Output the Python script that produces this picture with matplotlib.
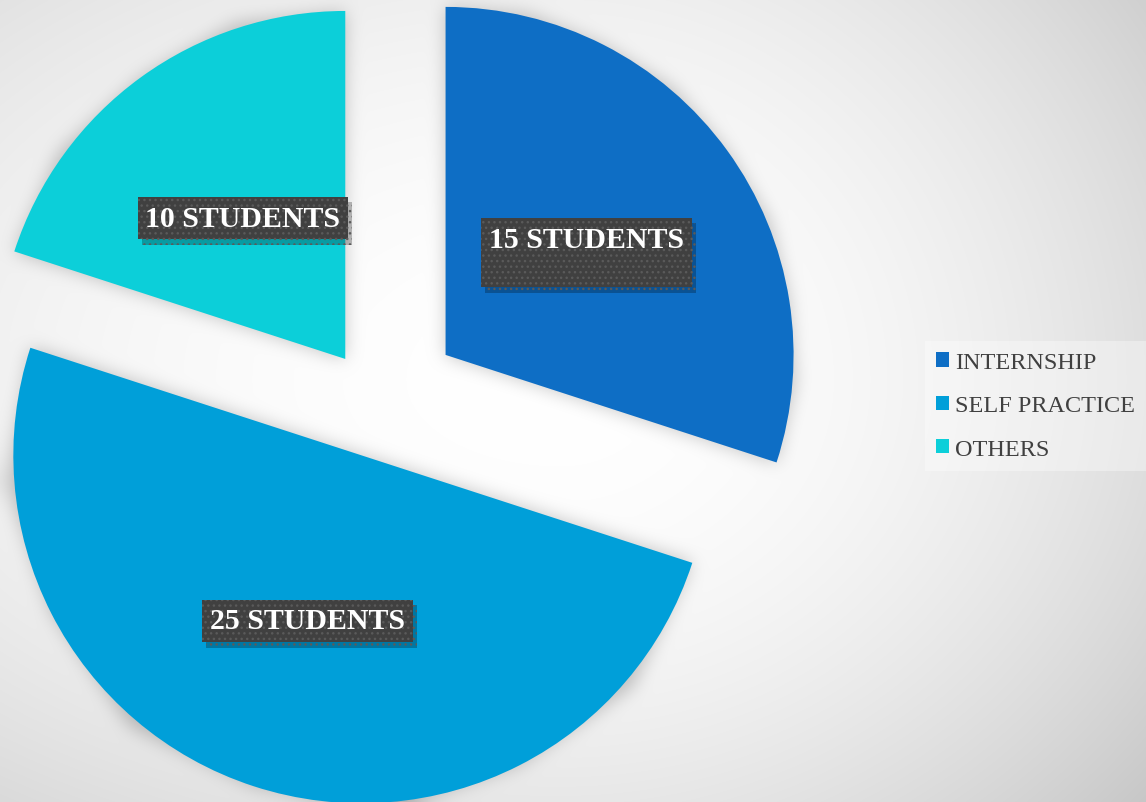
import matplotlib
matplotlib.use('Agg')
import matplotlib.pyplot as plt
import matplotlib.patheffects as pe
import numpy as np


# Where the students got their practice
categories = ['INTERNSHIP', 'SELF PRACTICE', 'OTHERS']
students = [15, 25, 10]
colors = ['#0E6EC5', '#009FD9', '#0CCFD9']
explode = [0.24, 0.155, 0.16]

W, H = 1146, 803
R_PX = 348.0          # pie radius in pixels
CX, CY = 378, 405     # pie centre in pixels, from the top left


# one box filter pass over both axes (three passes ~ gaussian)
def box_blur(img, r):
    pad = np.pad(img, r, mode='edge')
    c = np.cumsum(pad, axis=0)
    c = np.vstack([np.zeros((1, c.shape[1])), c])
    img = (c[2 * r + 1:] - c[:-2 * r - 1]) / (2 * r + 1)
    c = np.cumsum(img, axis=1)
    c = np.hstack([np.zeros((c.shape[0], 1)), c])
    img = (c[:, 2 * r + 1:] - c[:, :-2 * r - 1]) / (2 * r + 1)
    return img


fig = plt.figure(figsize=(W / 100, H / 100), dpi=100)
ax = fig.add_axes([0, 0, 1, 1])

wedges, texts, autotexts = ax.pie(students, colors=colors, explode=explode,
                                  startangle=90, counterclock=False, radius=1,
                                  autopct='%d', pctdistance=0.5,
                                  wedgeprops=dict(linewidth=0))

x0, x1 = -CX / R_PX, (W - CX) / R_PX
y0, y1 = -(H - CY) / R_PX, CY / R_PX
ax.set_xlim(x0, x1)
ax.set_ylim(y0, y1)
ax.set_aspect('auto')
ax.axis('off')

# soft shadow under the slices
gx, gy = np.meshgrid(np.linspace(x0, x1, W), np.linspace(y1, y0, H))
pts = np.column_stack([gx.ravel(), gy.ravel()])
mask = np.zeros(gx.size)
for w in wedges:
    path = w.get_path().transformed(w.get_patch_transform())
    mask = np.maximum(mask, path.contains_points(pts))
mask = mask.reshape(H, W)
for _ in range(3):
    mask = box_blur(mask, 8)

# radial grey background, white near the middle
px, py = np.meshgrid(np.arange(W), np.arange(H))
sx = np.where(px < 560, 1100.0, 738.0)
sy = np.where(py < 380, 700.0, 620.0)
d2 = ((px - 560) / sx) ** 2 + ((py - 380) / sy) ** 2
bg = np.clip(1 - 0.2 * d2, 0, 1)
shade = bg * (1 - 0.22 * mask)
img = np.dstack([shade] * 3)
ax.imshow(img, extent=[x0, x1, y0, y1], origin='upper', zorder=0,
          aspect='auto', interpolation='bilinear')

# dark label boxes with a dotted fill and a drop shadow
for i, (t, n) in enumerate(zip(autotexts, students)):
    label = f'{n} STUDENTS'
    if i == 0:
        label += '\n'   # the internship box is taller in the original
    t.set_text(label)
    t.set_fontsize(21.5)
    t.set_fontweight('bold')
    t.set_family('Liberation Serif')
    t.set_color('white')
    t.set_linespacing(1.0)
    t.set_bbox(dict(boxstyle='square,pad=0.26', facecolor='#404040',
                    edgecolor='#5a5a5a', linewidth=0, hatch='...'))
    t.get_bbox_patch().set_path_effects([
        pe.SimplePatchShadow(offset=(3, -4), shadow_rgbFace='black', alpha=0.25),
        pe.Normal()])
    t.set_zorder(4)

leg = ax.legend(wedges, categories, loc='center left',
                bbox_to_anchor=(925 / W, 1 - 407 / H), bbox_transform=fig.transFigure,
                frameon=True, fancybox=False, framealpha=0.35, facecolor='white',
                edgecolor='none', prop=dict(family='Liberation Serif', size=17.5),
                labelcolor='#404040', handlelength=0.55, handleheight=0.55,
                handletextpad=0.24, labelspacing=0.91, borderpad=0.45, borderaxespad=0)

fig.savefig('out.png', dpi=100)
